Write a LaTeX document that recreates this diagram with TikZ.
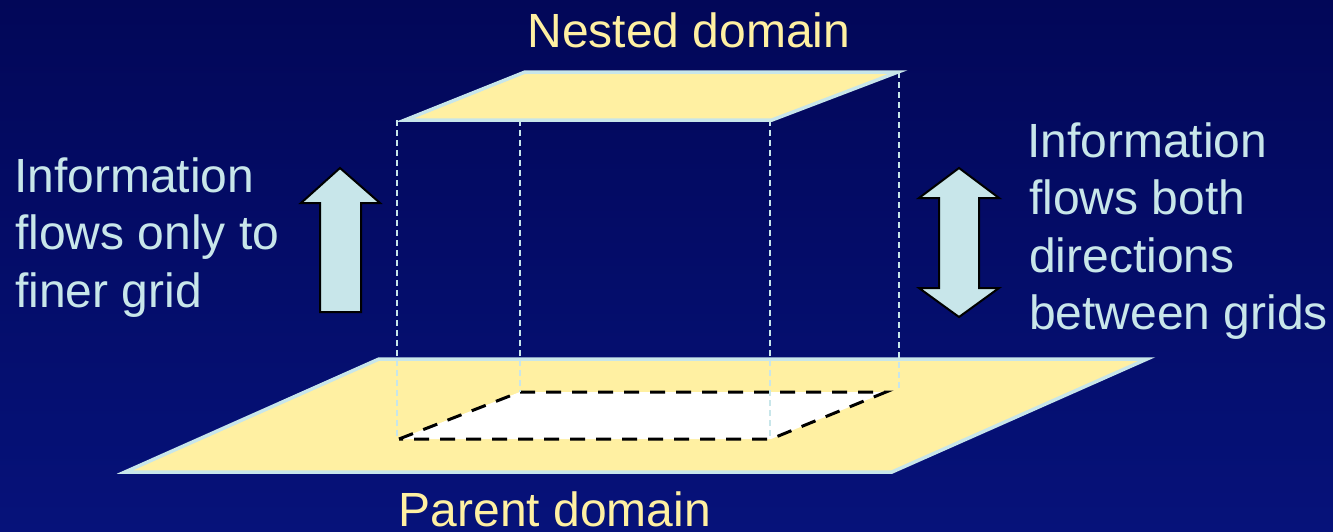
\documentclass[tikz,border=0pt]{standalone}
\usepackage{fontspec}
\setmainfont{Liberation Sans}
\definecolor{bgtop}{RGB}{2,7,88}
\definecolor{bgbot}{RGB}{6,18,122}
\definecolor{paleyellow}{RGB}{255,240,162}
\definecolor{paleblue}{RGB}{200,230,234}
\begin{document}
\begin{tikzpicture}[x=1pt,y=-1pt,
  plane/.style={fill=paleyellow,draw=paleblue,line width=3.5pt,line join=miter},
  hole/.style={fill=white,draw=black,line width=3pt,dash pattern=on 15pt off 11pt},
  guide/.style={draw=paleblue,line width=1.3pt,dash pattern=on 6pt off 4pt},
  fatarrow/.style={fill=paleblue,draw=black,line width=2pt,line join=miter},
  title/.style={text=paleyellow,font=\fontsize{48}{57.5}\selectfont,inner sep=0pt,anchor=base},
  note/.style={text=paleblue,font=\fontsize{48}{57.5}\selectfont,inner sep=0pt,anchor=base west}]
% background
\fill[top color=bgtop,bottom color=bgbot] (0,0) rectangle (1333,531);
\useasboundingbox (0,0) rectangle (1333,531);
% parent domain plane
\coordinate (p1) at (379,359);
\coordinate (p2) at (1147,359);
\coordinate (p3) at (892,472);
\coordinate (p4) at (125,472);
\path[plane] (p1) -- (p2) -- (p3) -- (p4) -- cycle;
% footprint of nested domain
\coordinate (h1) at (520,392);
\coordinate (h2) at (886,392);
\coordinate (h3) at (771,439);
\coordinate (h4) at (399,439);
\path[hole] (h4) -- (h1) -- (h2) -- (h3) -- cycle;
% nested domain plane
\coordinate (n1) at (525,72);
\coordinate (n2) at (898,72);
\coordinate (n3) at (772,120);
\coordinate (n4) at (405,120);
\path[plane] (n1) -- (n2) -- (n3) -- (n4) -- cycle;
% vertical guides
\coordinate (ga) at (397,120);  \coordinate (gA) at (397,439);
\coordinate (gb) at (520,120);  \coordinate (gB) at (520,392);
\coordinate (gc) at (770,120);  \coordinate (gC) at (770,439);
\coordinate (gd) at (899,72);   \coordinate (gD) at (899,390);
\draw[guide] (ga) -- (gA);
\draw[guide] (gb) -- (gB);
\draw[guide] (gc) -- (gC);
\draw[guide] (gd) -- (gD);
% up arrow
\path[fatarrow] (340,168) -- (380,203) -- (361,203) -- (361,312) -- (320,312)
  -- (320,203) -- (301,203) -- cycle;
% double arrow
\path[fatarrow] (959,168) -- (999,198) -- (979,198) -- (979,288) -- (999,288)
  -- (959,317) -- (919,288) -- (939,288) -- (939,198) -- (919,198) -- cycle;
% titles
\node[title] (nested) at (689,47) {Nested domain};
\node[title,text depth=0pt] (parent) at (555,526) {Parent domain};
% left note
\node[note] (l1) at (14,192) {Information};
\node[note] (l2) at (15,249.5) {flows only to};
\node[note] (l3) at (15,307) {finer grid};
% right note
\node[note] (r1) at (1027,157) {Information};
\node[note] (r2) at (1029,214.5) {flows both};
\node[note] (r3) at (1029,272) {directions};
\node[note] (r4) at (1029,329.5) {between grids};
\end{tikzpicture}
\end{document}
